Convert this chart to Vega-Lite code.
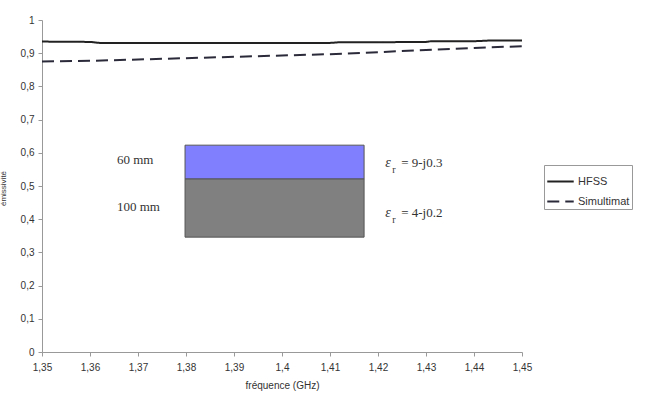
{
  "$schema": "https://vega.github.io/schema/vega-lite/v6.json",
  "autosize": {"type": "none"},
  "padding": {"left": 42, "top": 20, "right": 136, "bottom": 53},
  "width": 480,
  "height": 332,
  "background": "white",
  "config": {
    "view": {"stroke": null},
    "font": "Liberation Sans",
    "axis": {"grid": false, "domainColor": "#999", "tickColor": "#999", "labelColor": "#333", "titleColor": "#333", "labelFont": "Liberation Sans", "titleFont": "Liberation Sans", "labelFontSize": 10, "titleFontSize": 10, "titleFontWeight": "normal", "tickSize": 4, "labelOverlap": false}
  },
  "datasets": {
    "series": [
      {"x": 1.35, "y": 0.935, "s": "HFSS"},
      {"x": 1.36, "y": 0.934, "s": "HFSS"},
      {"x": 1.362, "y": 0.931, "s": "HFSS"},
      {"x": 1.37, "y": 0.931, "s": "HFSS"},
      {"x": 1.38, "y": 0.931, "s": "HFSS"},
      {"x": 1.39, "y": 0.931, "s": "HFSS"},
      {"x": 1.40, "y": 0.931, "s": "HFSS"},
      {"x": 1.41, "y": 0.931, "s": "HFSS"},
      {"x": 1.412, "y": 0.933, "s": "HFSS"},
      {"x": 1.42, "y": 0.933, "s": "HFSS"},
      {"x": 1.43, "y": 0.934, "s": "HFSS"},
      {"x": 1.431, "y": 0.936, "s": "HFSS"},
      {"x": 1.44, "y": 0.936, "s": "HFSS"},
      {"x": 1.443, "y": 0.938, "s": "HFSS"},
      {"x": 1.45, "y": 0.938, "s": "HFSS"},
      {"x": 1.35, "y": 0.875, "s": "Simultimat"},
      {"x": 1.36, "y": 0.877, "s": "Simultimat"},
      {"x": 1.37, "y": 0.881, "s": "Simultimat"},
      {"x": 1.38, "y": 0.885, "s": "Simultimat"},
      {"x": 1.39, "y": 0.889, "s": "Simultimat"},
      {"x": 1.40, "y": 0.893, "s": "Simultimat"},
      {"x": 1.41, "y": 0.897, "s": "Simultimat"},
      {"x": 1.42, "y": 0.903, "s": "Simultimat"},
      {"x": 1.43, "y": 0.910, "s": "Simultimat"},
      {"x": 1.44, "y": 0.916, "s": "Simultimat"},
      {"x": 1.45, "y": 0.921, "s": "Simultimat"}
    ],
    "layers": [
      {"x": 1.3798, "x2": 1.4171, "y": 0.521, "y2": 0.623, "layer": "top"},
      {"x": 1.3798, "x2": 1.4171, "y": 0.346, "y2": 0.521, "layer": "bottom"}
    ],
    "thick": [
      {"x": 1.3656, "y": 0.578, "t": "60 mm"},
      {"x": 1.3656, "y": 0.437, "t": "100 mm"}
    ],
    "eps": [
      {"x": 1.4215, "y": 0.569, "t": "= 9-j0.3"},
      {"x": 1.4215, "y": 0.418, "t": "= 4-j0.2"}
    ]
  },
  "encoding": {
    "x": {"field": "x", "type": "quantitative", "scale": {"domain": [1.35, 1.45], "nice": false, "zero": false},
          "axis": {"values": [1.35, 1.36, 1.37, 1.38, 1.39, 1.4, 1.41, 1.42, 1.43, 1.44, 1.45], "labelExpr": "replace(format(datum.value, '.2~f'), '.', ',')", "title": "fréquence (GHz)", "labelPadding": 6, "titlePadding": 8, "labelFlush": false}},
    "y": {"field": "y", "type": "quantitative", "scale": {"domain": [0, 1], "nice": false},
          "axis": {"values": [0, 0.1, 0.2, 0.3, 0.4, 0.5, 0.6, 0.7, 0.8, 0.9, 1], "labelExpr": "replace(format(datum.value, '.1~f'), '.', ',')", "title": "émissivité", "titleFontSize": 8, "titleX": -35, "titleY": 168, "labelPadding": 4, "labelFlush": false}}
  },
  "layer": [
    {
      "data": {"name": "series"},
      "mark": {"type": "line", "strokeWidth": 2},
      "encoding": {
        "color": {"field": "s", "type": "nominal", "scale": {"domain": ["HFSS", "Simultimat"], "range": ["#222222", "#2a2a3a"]},
                  "legend": {"title": null, "orient": "none", "legendX": 502, "legendY": 145, "strokeColor": "#999", "padding": 2, "symbolType": "M-1,0H1", "symbolSize": 700, "symbolStrokeWidth": 2, "labelFontSize": 11, "labelColor": "#333", "rowPadding": 0, "labelOffset": 3}},
        "strokeDash": {"field": "s", "type": "nominal", "scale": {"domain": ["HFSS", "Simultimat"], "range": [[1, 0], [12, 6]]}, "legend": null}
      }
    },
    {
      "data": {"name": "layers"},
      "mark": {"type": "rect", "stroke": "#555", "strokeWidth": 1},
      "encoding": {
        "x2": {"field": "x2"},
        "y2": {"field": "y2"},
        "fill": {"field": "layer", "type": "nominal", "scale": {"domain": ["top", "bottom"], "range": ["#8080ff", "#808080"]}, "legend": null}
      }
    },
    {
      "data": {"name": "thick"},
      "mark": {"type": "text", "font": "Liberation Serif", "fontSize": 13, "align": "left", "baseline": "middle", "color": "#333"},
      "encoding": {
        "text": {"field": "t"}
      }
    },
    {
      "data": {"name": "eps"},
      "mark": {"type": "text", "font": "Liberation Serif", "fontSize": 14, "fontStyle": "italic", "align": "left", "baseline": "middle", "color": "#333", "text": "ε"},
      "encoding": {}
    },
    {
      "data": {"name": "eps"},
      "mark": {"type": "text", "font": "Liberation Serif", "fontSize": 10, "align": "left", "baseline": "middle", "color": "#333", "text": "r", "dx": 7, "dy": 7},
      "encoding": {}
    },
    {
      "data": {"name": "eps"},
      "mark": {"type": "text", "font": "Liberation Serif", "fontSize": 13, "align": "left", "baseline": "middle", "color": "#333", "dx": 16},
      "encoding": {
        "text": {"field": "t"}
      }
    }
  ]
}
